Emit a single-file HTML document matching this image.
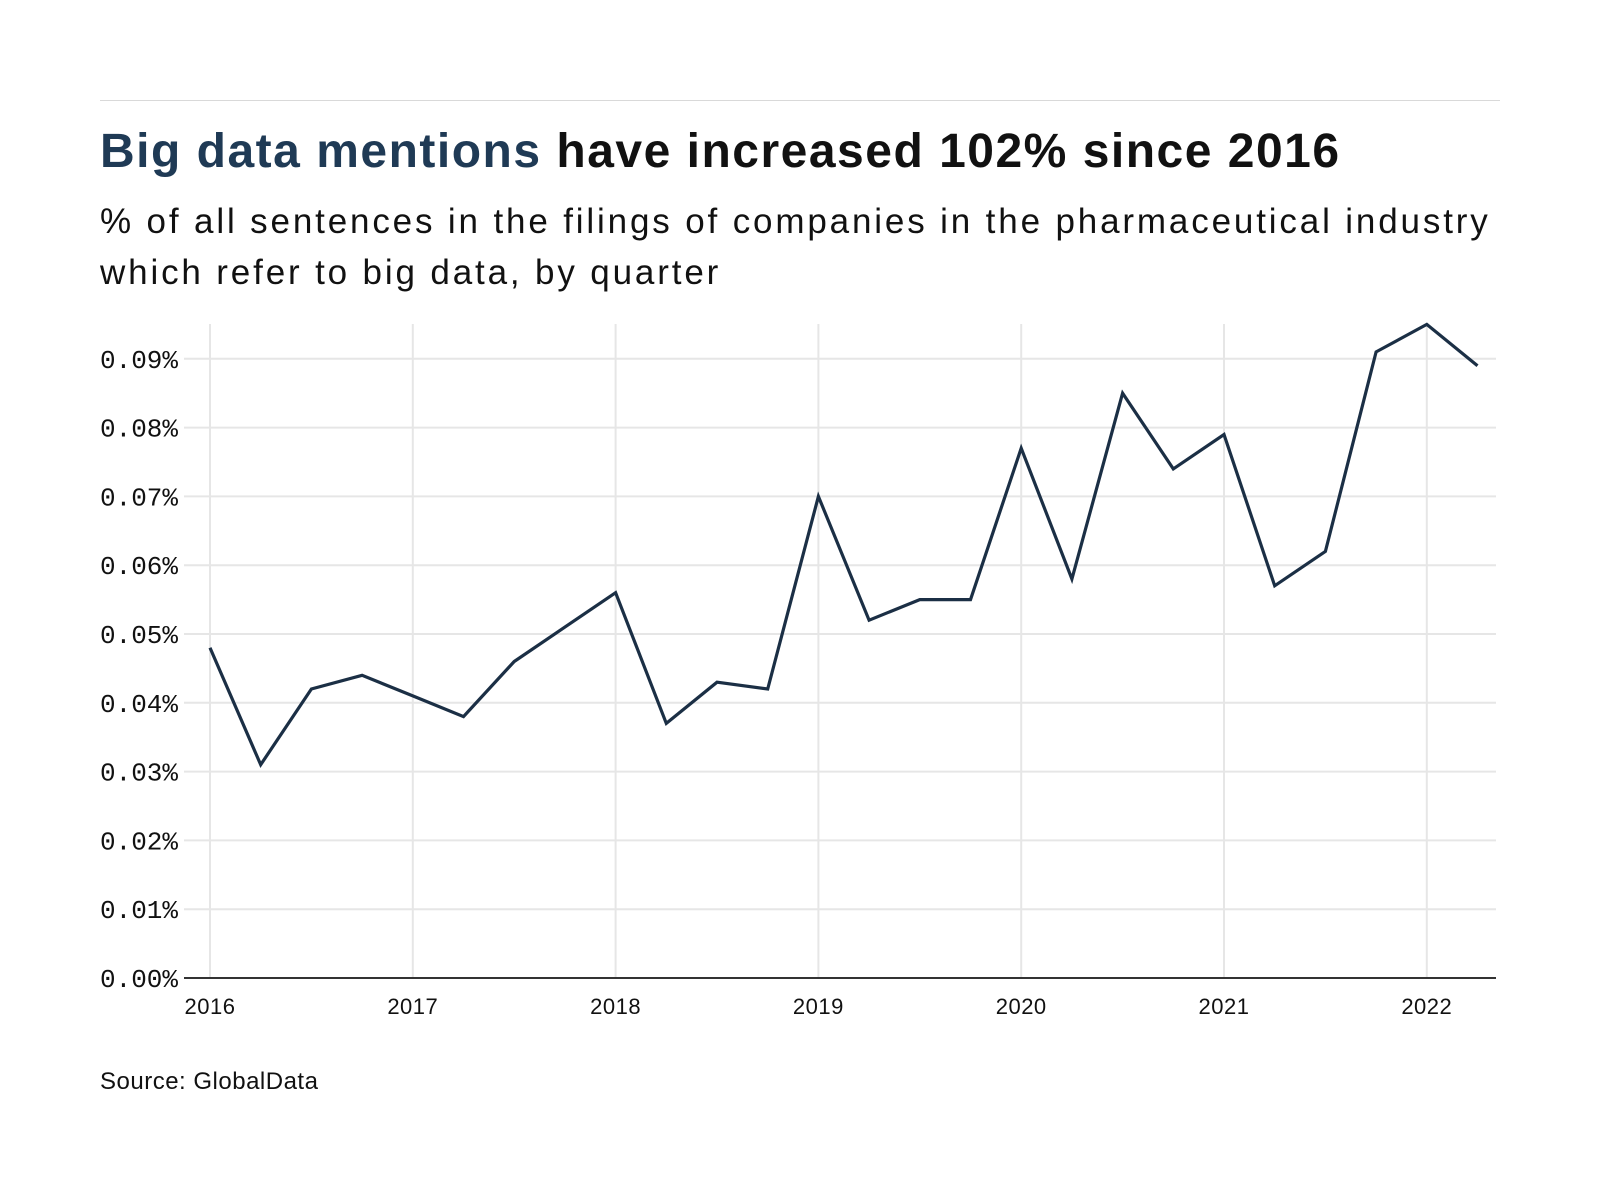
<!DOCTYPE html>
<html><head><meta charset="utf-8">
<style>
html,body{margin:0;padding:0;background:#fff;}
body{width:1600px;height:1200px;position:relative;overflow:hidden;font-family:"Liberation Sans",sans-serif;}
.rule{position:absolute;left:100px;top:100px;width:1400px;height:1px;background:#d9d9d9;}
.title{position:absolute;left:100px;top:124px;font-size:48px;font-weight:bold;color:#111;white-space:nowrap;letter-spacing:1.5px;}
.title span{color:#1f3a55;}
.sub{position:absolute;left:100px;top:196px;font-size:35px;line-height:51px;color:#111;width:1480px;letter-spacing:2.85px;white-space:nowrap;}
.src{position:absolute;left:100px;top:1068px;font-size:24px;color:#111;letter-spacing:0.5px;}
svg{position:absolute;left:0;top:0;}
</style></head><body>
<div class="rule"></div>
<div class="title"><span>Big data mentions</span> have increased 102% since 2016</div>
<div class="sub">% of all sentences in the filings of companies in the pharmaceutical industry<br>which refer to big data, by quarter</div>
<svg id="c" width="1600" height="1200" xmlns="http://www.w3.org/2000/svg"></svg>
<div class="src">Source: GlobalData</div>
<script>
var s=document.getElementById('c'),h='';
var x0=210,dx=202.8/4,y0=978,dy=68.8;
for(var i=1;i<=9;i++){var y=y0-i*dy;h+='<line x1="184" x2="1496" y1="'+y+'" y2="'+y+'" stroke="#e6e6e6" stroke-width="2"/>';}
for(var k=0;k<=6;k++){var x=x0+k*202.8;h+='<line x1="'+x+'" x2="'+x+'" y1="324" y2="'+y0+'" stroke="#e6e6e6" stroke-width="2"/>';
h+='<text x="'+x+'" y="1014" font-size="22" text-anchor="middle" fill="#111" letter-spacing="0.5" font-family="Liberation Sans, sans-serif">'+(2016+k)+'</text>';}
for(var i=0;i<=9;i++){var y=y0-i*dy;h+='<text x="178" y="'+(y+9)+'" font-size="26" text-anchor="end" fill="#111" font-family="Liberation Mono, monospace">0.0'+i+'%</text>';}
h+='<line x1="184" x2="1496" y1="'+y0+'" y2="'+y0+'" stroke="#333" stroke-width="2"/>';
var d=[.048,.031,.042,.044,.041,.038,.046,.051,.056,.037,.043,.042,.070,.052,.055,.055,.077,.058,.085,.074,.079,.057,.062,.091,.095,.089];
var p=d.map(function(v,i){return (x0+i*dx).toFixed(1)+','+(y0-v*100*dy).toFixed(1);}).join(' ');
h+='<polyline points="'+p+'" fill="none" stroke="#1b2f45" stroke-width="3.2" stroke-linejoin="miter"/>';
s.innerHTML=h;
</script>
</body></html>
